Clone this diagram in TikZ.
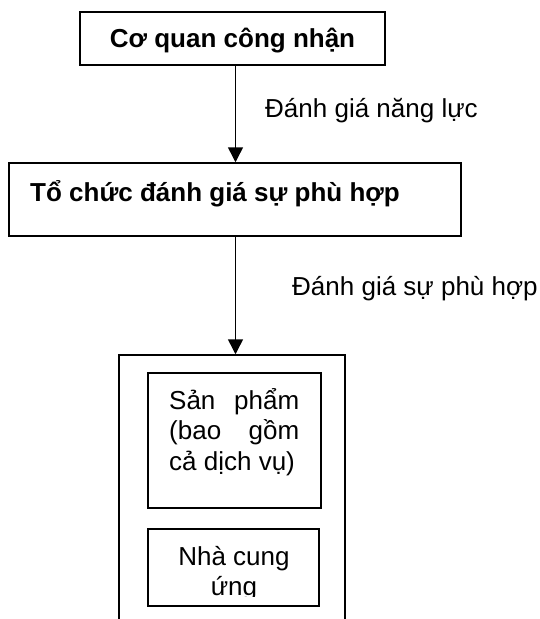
\documentclass[tikz,border=0pt]{standalone}
\usepackage{fontspec}
\setmainfont{Liberation Sans}
\usetikzlibrary{arrows.meta}
\tikzset{
  boxed/.style={draw=black, line width=1.5pt, inner sep=0pt},
  lbl/.style={inner sep=0pt, anchor=base west, font=\fontsize{26}{30}\selectfont},
  arr/.style={line width=1.5pt, -{Triangle[width=15pt,length=15pt]}},
}
\begin{document}
\begin{tikzpicture}[x=1pt,y=-1pt]
\useasboundingbox (0,0) rectangle (539,619);
\clip (0,0) rectangle (539,619);
% top box
\node[boxed, minimum width=305pt, minimum height=53pt, text height=18.6pt, text depth=0pt,
      font=\fontsize{26}{30}\selectfont\bfseries] (top) at (232.5,38.5) {Cơ quan công nhận};
% organisation box
\node[boxed, minimum width=452pt, minimum height=73pt] (org) at (235,199.5) {};
\node[lbl, font=\fontsize{26}{30}\selectfont\bfseries] (orgtext) at (30,201) {Tổ chức đánh giá sự phù hợp};
% outer box
\node[boxed, minimum width=226pt, minimum height=265pt] (outer) at (232,487.5) {};
% product box
\node[boxed, minimum width=173pt, minimum height=135pt] (prod) at (234.5,440.5) {};
\node[lbl] (prodtext) at (169,470) {\vbox{\hsize=130pt\baselineskip=30.5pt
  \hbox to\hsize{Sản\hfill phẩm}\hbox to\hsize{(bao\hfill gồm}\hbox{cả dịch vụ)}}};
% supplier box
\node[boxed, minimum width=171pt, minimum height=77pt] (supp) at (233.5,567.5) {};
\begin{scope}
\clip (148,529) rectangle (319,596.5);
\node[lbl, anchor=base] (supptext) at (234,595) {\vbox{\hsize=160pt\baselineskip=30pt
  \hbox to\hsize{\hfil Nhà cung\hfil}\hbox to\hsize{\hfil ứng\hfil}}};
\end{scope}
% connectors
\coordinate (ax) at (235.5,0);
\draw[arr] (top.south -| ax) -- (org.north -| ax);
\draw[arr] (org.south -| ax) -- (outer.north -| ax);
% labels
\node[lbl] (l1) at (265,117) {Đánh giá năng lực};
\node[lbl] (l2) at (292,295) {Đánh giá sự phù hợp};
\end{tikzpicture}
\end{document}
